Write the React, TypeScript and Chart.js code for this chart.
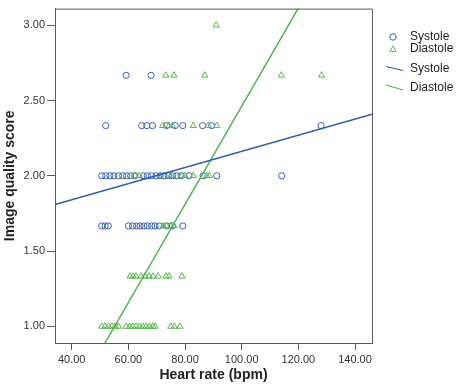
import React, { useEffect, useRef } from "react";
import { Chart, registerables } from "chart.js";

Chart.register(...registerables);

// Systole observations (heart rate, image quality score)
const sysBpm = [
  59.2, 68.0,
  52.0, 64.7, 66.5, 68.5, 73.5, 76.5, 79.2, 86.2, 89.4, 128.0,
  50.6, 52.0, 53.5, 54.9, 56.5, 58.0, 59.4, 60.8, 62.3, 65.3, 66.7, 68.2, 69.8, 71.2, 72.6, 74.1, 75.6, 77.1, 78.6, 81.4, 86.4, 91.2, 114.1,
  50.6, 51.8, 52.9, 60.0, 61.5, 62.9, 64.1, 65.5, 66.7, 68.2, 69.4, 70.9, 73.5, 75.5, 79.2,
];
const sysScore = [
  2.667, 2.667,
  2.333, 2.333, 2.333, 2.333, 2.333, 2.333, 2.333, 2.333, 2.333, 2.333,
  2, 2, 2, 2, 2, 2, 2, 2, 2, 2, 2, 2, 2, 2, 2, 2, 2, 2, 2, 2, 2, 2, 2,
  1.667, 1.667, 1.667, 1.667, 1.667, 1.667, 1.667, 1.667, 1.667, 1.667, 1.667, 1.667, 1.667, 1.667, 1.667,
];

// Diastole observations
const diaBpm = [
  91.0,
  73.2, 76.1, 87.0, 114.0, 128.2,
  72.1, 74.3, 75.5, 82.9, 88.2, 91.2,
  62.3, 63.9, 71.2, 75.0, 78.8, 80.0, 82.9, 87.6, 88.6,
  72.3, 73.5, 74.9, 76.1,
  60.6, 61.7, 62.7, 64.5, 65.9, 67.3, 68.7, 70.5, 73.3, 74.3, 78.9,
  50.6, 51.8, 53.0, 54.2, 55.3, 56.5, 59.2, 60.4, 61.6, 62.7, 63.9, 65.1, 66.3, 67.4, 68.6, 69.4, 75.0, 76.2, 78.2,
];
const diaScore = [
  3,
  2.667, 2.667, 2.667, 2.667, 2.667,
  2.333, 2.333, 2.333, 2.333, 2.333, 2.333,
  2, 2, 2, 2, 2, 2, 2, 2, 2,
  1.667, 1.667, 1.667, 1.667,
  1.333, 1.333, 1.333, 1.333, 1.333, 1.333, 1.333, 1.333, 1.333, 1.333, 1.333,
  1, 1, 1, 1, 1, 1, 1, 1, 1, 1, 1, 1, 1, 1, 1, 1, 1, 1, 1,
];

// Linear fit lines (endpoints)
const sysFitBpm = [34.1, 146.0];
const sysFitScore = [1.809, 2.408];
const diaFitBpm = [51.75, 119.9];
const diaFitScore = [0.89, 3.11];

const xTicks = [40, 60, 80, 100, 120, 140];
const yTicks = [1.0, 1.5, 2.0, 2.5, 3.0];
const xRange = [34.1, 146.0];
const yRange = [0.89, 3.11];

const legendLabels = ["Systole", "Diastole", "Systole", "Diastole"];

const BLUE = "#3a62ad";
const GREEN = "#55b848";
const BLUE_LINE = "#2d5ca8";
const GREEN_LINE = "#4cb648";
const AXIS = "#5a5a5a";
const FONT = "'Liberation Sans', Arial, sans-serif";

const zip = (xs: number[], ys: number[]) => xs.map((x, i) => ({ x, y: ys[i] }));

export default function App() {
  const ref = useRef<HTMLCanvasElement | null>(null);

  useEffect(() => {
    if (!ref.current) return;

    const framePlugin = {
      id: "frameAndLegend",
      afterDraw(chart: any) {
        const { ctx, chartArea } = chart;
        ctx.save();
        ctx.strokeStyle = AXIS;
        ctx.lineWidth = 1;
        ctx.beginPath();
        ctx.moveTo(chartArea.left, chartArea.top + 0.5);
        ctx.lineTo(chartArea.right + 0.5, chartArea.top + 0.5);
        ctx.lineTo(chartArea.right + 0.5, chartArea.bottom);
        ctx.stroke();

        // legend
        const lx = 393;
        const tx = 410;
        const rows = [37, 49, 68.5, 88];
        ctx.lineWidth = 1;
        ctx.strokeStyle = BLUE;
        ctx.beginPath();
        ctx.arc(lx, rows[0], 3.2, 0, Math.PI * 2);
        ctx.stroke();
        ctx.strokeStyle = GREEN;
        ctx.beginPath();
        const r = 3.6;
        const cy = rows[1] + 0.5;
        ctx.moveTo(lx, cy - r);
        ctx.lineTo(lx + r * 0.866, cy + r * 0.5);
        ctx.lineTo(lx - r * 0.866, cy + r * 0.5);
        ctx.closePath();
        ctx.stroke();
        ctx.lineWidth = 1.2;
        ctx.strokeStyle = BLUE_LINE;
        ctx.beginPath();
        ctx.moveTo(386, 66.5);
        ctx.lineTo(403, 70.5);
        ctx.stroke();
        ctx.strokeStyle = GREEN_LINE;
        ctx.beginPath();
        ctx.moveTo(386, 85);
        ctx.lineTo(403, 90);
        ctx.stroke();

        ctx.fillStyle = "#222";
        ctx.font = `12px ${FONT}`;
        ctx.textBaseline = "middle";
        ctx.textAlign = "left";
        legendLabels.forEach((t, i) => ctx.fillText(t, tx, rows[i]));
        ctx.restore();
      },
    };

    const chart = new Chart(ref.current, {
      type: "scatter",
      data: {
        datasets: [
          {
            label: "Systole fit",
            type: "line",
            data: zip(sysFitBpm, sysFitScore),
            borderColor: BLUE_LINE,
            borderWidth: 1.5,
            pointRadius: 0,
            showLine: true,
            fill: false,
            order: 0,
          } as any,
          {
            label: "Diastole fit",
            type: "line",
            data: zip(diaFitBpm, diaFitScore),
            borderColor: GREEN_LINE,
            borderWidth: 1.5,
            pointRadius: 0,
            showLine: true,
            fill: false,
            order: 0,
          } as any,
          {
            label: "Diastole",
            data: zip(diaBpm, diaScore),
            pointStyle: "triangle",
            pointRadius: 3.6,
            borderWidth: 1,
            borderColor: GREEN,
            backgroundColor: "rgba(0,0,0,0)",
            order: 1,
          },
          {
            label: "Systole",
            data: zip(sysBpm, sysScore),
            pointStyle: "circle",
            pointRadius: 3.1,
            borderWidth: 1,
            borderColor: BLUE,
            backgroundColor: "rgba(0,0,0,0)",
            order: 2,
          },
        ],
      },
      options: {
        animation: false,
        responsive: false,
        maintainAspectRatio: false,
        layout: { padding: { left: 0, right: 84, top: 7, bottom: 0 } },
        plugins: { legend: { display: false }, tooltip: { enabled: false } },
        scales: {
          x: {
            type: "linear",
            min: xRange[0],
            max: xRange[1],
            afterBuildTicks: (s: any) => {
              s.ticks = xTicks.map((v) => ({ value: v }));
            },
            afterFit: (s: any) => {
              s.height = 41;
            },
            grid: { drawOnChartArea: false, drawTicks: true, tickLength: 7, tickColor: AXIS },
            border: { display: true, color: AXIS, width: 1 },
            ticks: {
              padding: 3,
              color: "#333",
              font: { family: FONT, size: 11 },
              maxRotation: 0,
              callback: (v: any) => Number(v).toFixed(2),
            },
            title: {
              display: true,
              text: "Heart rate (bpm)",
              color: "#222",
              font: { family: FONT, size: 14, weight: "bold" },
              padding: { top: 0, bottom: 0 },
            },
          },
          y: {
            type: "linear",
            min: yRange[0],
            max: yRange[1],
            afterBuildTicks: (s: any) => {
              s.ticks = yTicks.map((v) => ({ value: v }));
            },
            afterFit: (s: any) => {
              s.width = 55;
            },
            grid: { drawOnChartArea: false, drawTicks: true, tickLength: 8, tickColor: AXIS },
            border: { display: true, color: AXIS, width: 1 },
            ticks: {
              padding: 2,
              color: "#333",
              font: { family: FONT, size: 11 },
              callback: (v: any) => Number(v).toFixed(2),
            },
            title: {
              display: true,
              text: "Image quality score",
              color: "#222",
              font: { family: FONT, size: 14, weight: "bold" },
              padding: { top: 2, bottom: 0 },
            },
          },
        },
      },
      plugins: [framePlugin],
    });

    return () => chart.destroy();
  }, []);

  return (
    <div style={{ position: "absolute", left: 0, top: 0, width: 456, height: 384, background: "#fff" }}>
      <canvas ref={ref} width={456} height={384} style={{ width: 456, height: 384 }} />
    </div>
  );
}
